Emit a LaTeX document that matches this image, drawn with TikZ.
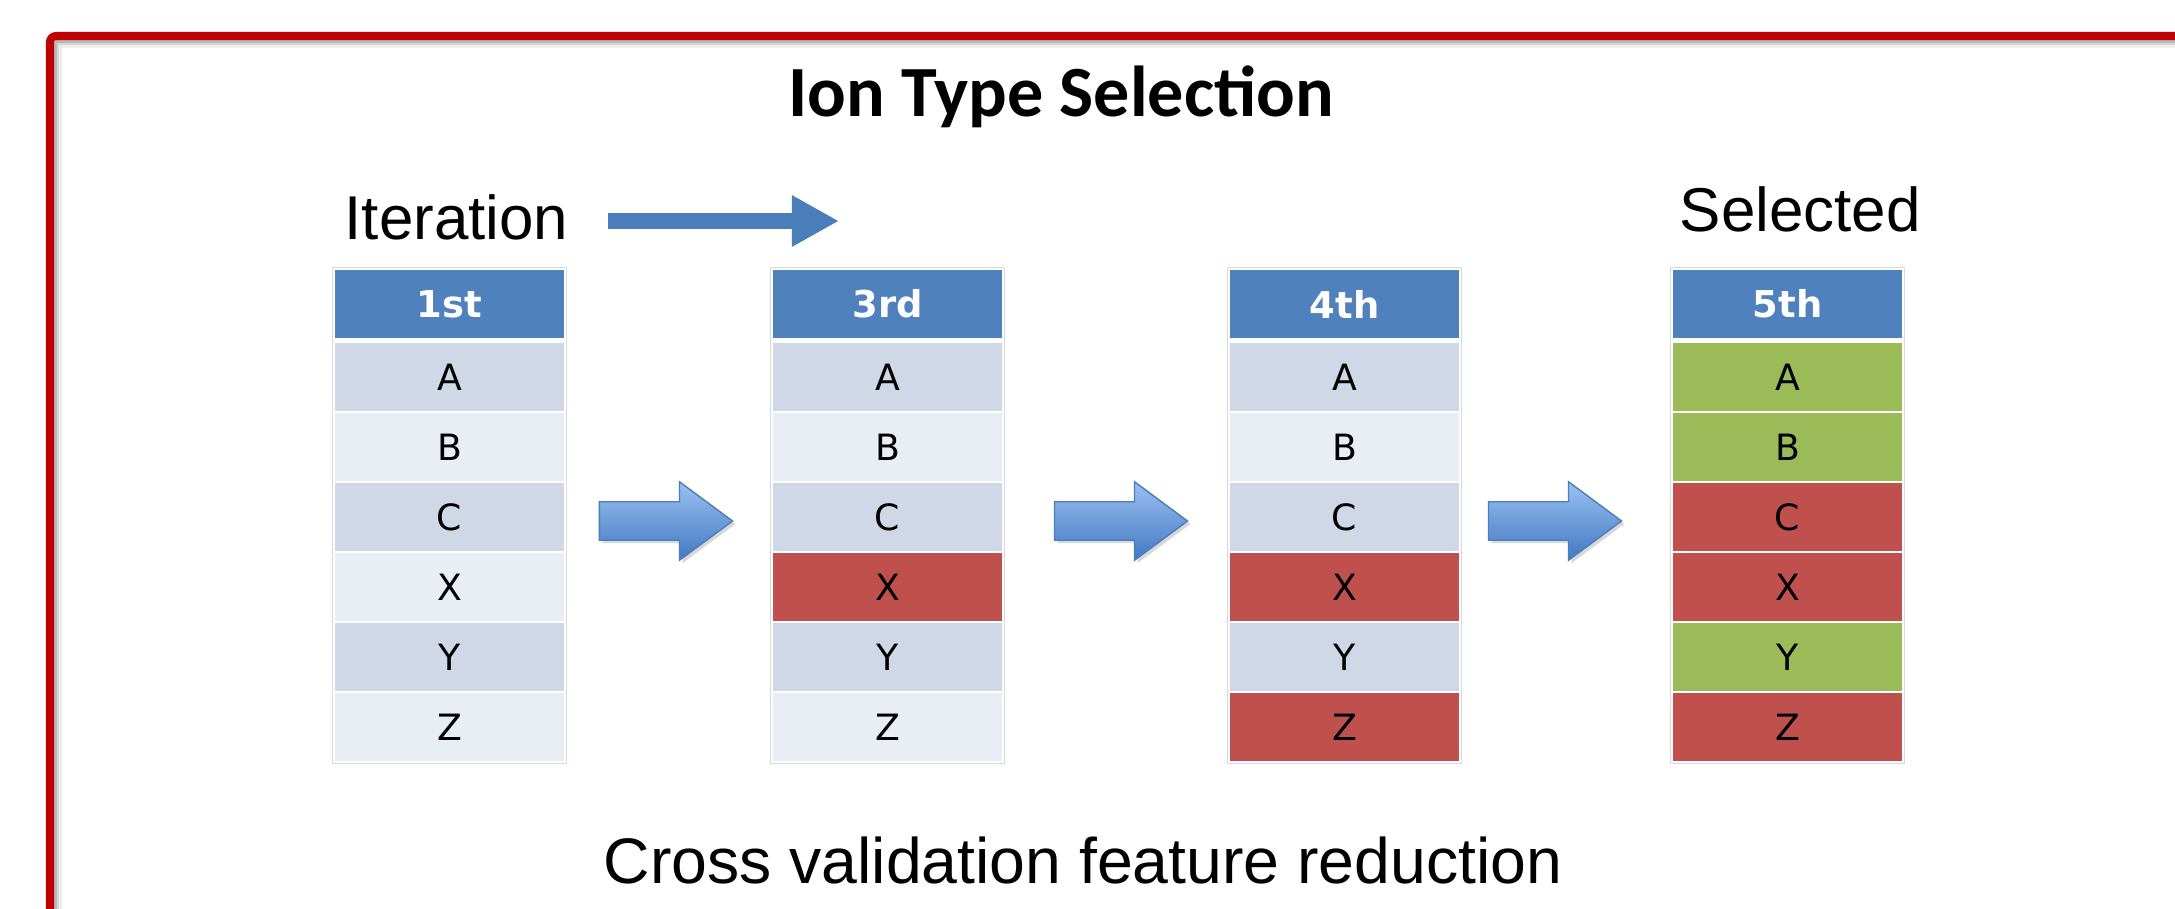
\documentclass[tikz,border=0pt]{standalone}
\usepackage{fontspec}
\setmainfont{Liberation Sans}
\newfontfamily\titlefont{Carlito}
\newfontfamily\cellfont{DejaVu Sans}
\usetikzlibrary{arrows.meta,shapes.arrows,shadows}
\definecolor{framered}{HTML}{C00000}
\definecolor{hdblue}{HTML}{4F81BD}
\definecolor{banddark}{HTML}{D0D8E8}
\definecolor{bandlight}{HTML}{E9EDF4}
\definecolor{dropred}{HTML}{C0504D}
\definecolor{keepgreen}{HTML}{9BBB59}
\definecolor{arrowblue}{HTML}{4A7EBB}
\definecolor{arrowtop}{HTML}{9BC0F0}
\definecolor{arrowbot}{HTML}{4279C4}

\begin{document}
\begin{tikzpicture}[x=0.01cm,y=-0.01cm,
	cell/.style={minimum width=2.29cm,minimum height=0.67cm,inner sep=0pt,
		font=\cellfont\fontsize{10.3}{12}\selectfont},
	head/.style={cell,minimum height=0.68cm,fill=hdblue,text=white,
		font=\cellfont\bfseries\fontsize{10.5}{12}\selectfont},
	fatarrow/.style={single arrow,draw=arrowblue,line width=0.4pt,
		top color=arrowtop,bottom color=arrowbot,
		minimum height=1.33cm,minimum width=0.77cm,inner xsep=0pt,inner ysep=0.185cm,
		single arrow head extend=0.2cm,single arrow tip angle=73,
		single arrow head indent=0pt,
		drop shadow={shadow xshift=0.03cm,shadow yshift=-0.03cm,opacity=0.3}},
	sidetext/.style={inner sep=0pt,font=\fontsize{17.6}{20}\selectfont}]
	\useasboundingbox (0,0) rectangle (2175,909);
	\fill[white] (0,0) rectangle (2175,909);

	\foreach \d/\o in {5.5/0.28,8/0.16,10.5/0.07}
		\draw[black,opacity=\o,line width=0.025cm] ({50+\d},1000) -- ({50+\d},{36+\d}) -- (2300,{36+\d});
	\draw[framered,line width=0.08cm,rounded corners=0.06cm] (50,1000) -- (50,36) -- (2300,36);

	\node[anchor=base,inner sep=0pt,font=\titlefont\bfseries\fontsize{20.5}{24}\selectfont]
		(title) at (1061,116) {Ion Type Selection};

	\node[sidetext,anchor=base west] (iter) at (344,239) {Iteration};
	\coordinate (iterstart) at (608,221);
	\coordinate (iterend) at (839,221);
	\draw[arrowblue,line width=0.16cm,-{Triangle[length=0.47cm,width=0.48cm]}] (iterstart) -- (iterend);
	\node[sidetext,anchor=base west] (sel) at (1679,231) {Selected};

	\foreach \tx/\hd/\rows [count=\t] in {
		335/1st/{A/banddark,B/bandlight,C/banddark,X/bandlight,Y/banddark,Z/bandlight},
		773/3rd/{A/banddark,B/bandlight,C/banddark,X/dropred,Y/banddark,Z/bandlight},
		1230/4th/{A/banddark,B/bandlight,C/banddark,X/dropred,Y/banddark,Z/dropred},
		1673/5th/{A/keepgreen,B/keepgreen,C/dropred,X/dropred,Y/keepgreen,Z/dropred}} {
		\node[head] (t\t-hd) at ({\tx+114.5},304) {\hd};
		\foreach \l/\f [count=\r from 0] in \rows
			\node[cell,fill=\f] (t\t-\l) at ({\tx+114.5},{377+70*\r}) {\l};
		\draw[gray!30] ([shift={(-2,-2)}]t\t-hd.north west) rectangle ([shift={(2,2)}]t\t-Z.south east);
	}

	\node[fatarrow] (step1) at (653,521) {};
	\node[fatarrow] (step2) at (1108,521) {};
	\node[fatarrow] (step3) at (1542,521) {};

	\node[anchor=base west,inner sep=0pt,font=\fontsize{18.3}{22}\selectfont]
		(caption) at (603,883) {Cross validation feature reduction};
\end{tikzpicture}
\end{document}
